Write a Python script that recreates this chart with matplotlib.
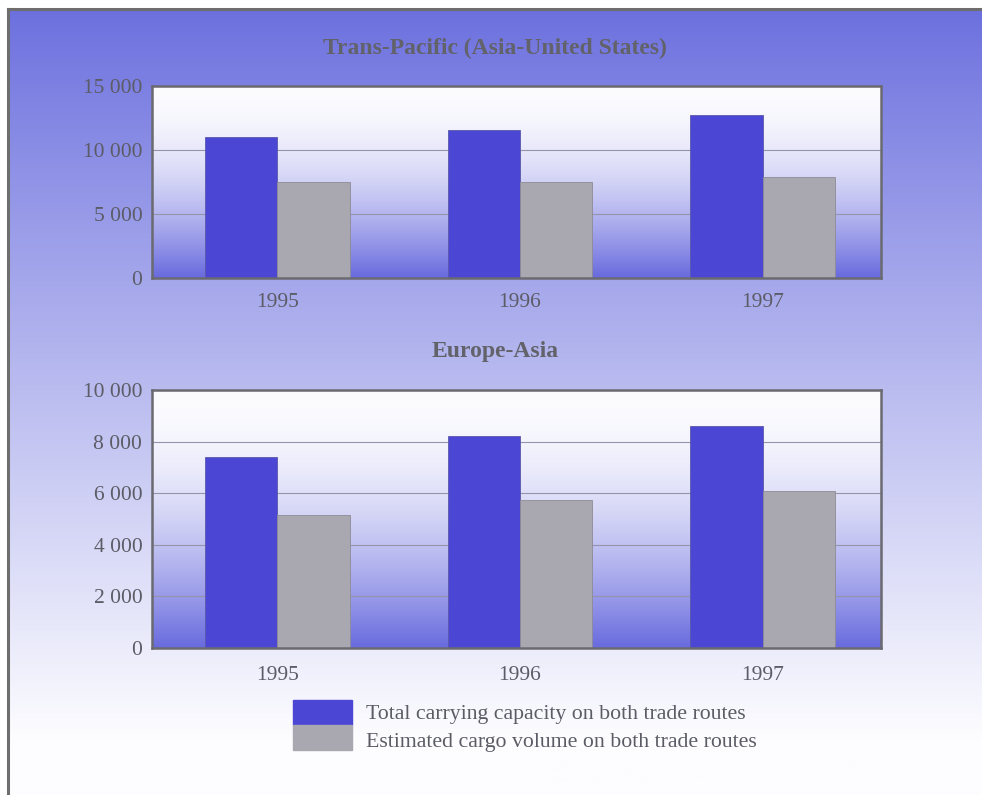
import numpy as np
import matplotlib
matplotlib.use("Agg")
import matplotlib.pyplot as plt
from matplotlib.lines import Line2D
from matplotlib.patches import Rectangle
from matplotlib.ticker import FuncFormatter, MultipleLocator

plt.rcParams['font.family'] = ['Liberation Serif', 'DejaVu Serif']

# values per year, in thousands of TEU
years = ['1995', '1996', '1997']
tp_capacity = [11000, 11550, 12700]
tp_cargo = [7500, 7500, 7900]
ea_capacity = [7400, 8200, 8600]
ea_cargo = [5150, 5750, 6100]

titles = ['Trans-Pacific (Asia-United States)', 'Europe-Asia']
legend_labels = ['Total carrying capacity on both trade routes',
                 'Estimated cargo volume on both trade routes']

BLUE = '#4b46d3'
GREY = '#a9a7af'
TXT = '#5c5c66'
W, H = 982, 795


def gradient(top, bottom, n=256, power=1.0, stop=1.0):
    t = np.clip(np.linspace(0, 1, n) / stop, 0, 1) ** power
    top = np.array(top) / 255.0
    bottom = np.array(bottom) / 255.0
    rows = top[None, :] + (bottom - top)[None, :] * t[:, None]
    return rows[:, None, :]


fig = plt.figure(figsize=(W / 100, H / 100), dpi=100)
fig.patch.set_facecolor('white')

# page background: blue at the top fading to white lower down
bg = fig.add_axes([0, 0, 1, 1], zorder=-10)
bg.axis('off')
bg.imshow(gradient((108, 112, 222), (253, 253, 255), n=512, power=0.95, stop=0.93),
          extent=(8 / W, 1, 0, 1 - 9 / H), aspect='auto')
bg.set_xlim(0, 1)
bg.set_ylim(0, 1)
fig.add_artist(Line2D([8 / W, 8 / W], [0, 1 - 9 / H], color='#6e6e6e', lw=2.2))
fig.add_artist(Line2D([8 / W, 1], [1 - 9 / H, 1 - 9 / H], color='#6e6e6e', lw=2.2))


def panel(rect, capacity, cargo, ymax, step, title, title_y, labelpad):
    ax = fig.add_axes(rect)
    x = np.arange(len(years))
    xlim = (-0.516, 2.488)
    ax.imshow(gradient((252, 252, 255), (104, 106, 222), power=1.8),
              extent=(xlim[0], xlim[1], 0, ymax), aspect='auto', zorder=0)
    ax.bar(x - 0.149, capacity, width=0.298, color=BLUE,
           edgecolor='#5a58a8', linewidth=0.6, zorder=2)
    ax.bar(x + 0.149, cargo, width=0.298, color=GREY,
           edgecolor='#8d8b95', linewidth=0.6, zorder=2)
    ax.set_xlim(*xlim)
    ax.set_ylim(0, ymax)
    ax.yaxis.set_major_locator(MultipleLocator(step))
    ax.yaxis.set_major_formatter(
        FuncFormatter(lambda v, p: f"{int(v):,}".replace(',', ' ')))
    ax.set_xticks(x)
    ax.set_xticklabels(years)
    ax.grid(axis='y', color='#9494aa', lw=0.8, zorder=1)
    ax.tick_params(length=0, labelsize=15.5, colors=TXT)
    ax.tick_params(axis='y', pad=7)
    ax.tick_params(axis='x', pad=labelpad)
    for s in ax.spines.values():
        s.set_color('#6a6a70')
        s.set_linewidth(1.8)
    fig.text(0.504, title_y, title, ha='center', va='center',
             fontsize=17, fontweight='bold', color='#62626a')
    return ax


panel([152 / W, 1 - 278 / H, 729 / W, 192 / H], tp_capacity, tp_cargo,
      15000, 5000, titles[0], 1 - 48 / H, 11)
panel([152 / W, 1 - 648 / H, 729 / W, 258 / H], ea_capacity, ea_cargo,
      10000, 2000, titles[1], 1 - 352 / H, 13)

# legend swatches and labels
for i, (col, lab) in enumerate(zip([BLUE, GREY], legend_labels)):
    y0 = 1 - (725 + 25 * i) / H
    fig.add_artist(Rectangle((293 / W, y0), 59 / W, 25 / H, color=col,
                             transform=fig.transFigure))
    fig.text(366 / W, 1 - (715 + 28 * i) / H, lab, ha='left', va='center',
             fontsize=15.7, color=TXT)

fig.savefig('out.png', dpi=100)
